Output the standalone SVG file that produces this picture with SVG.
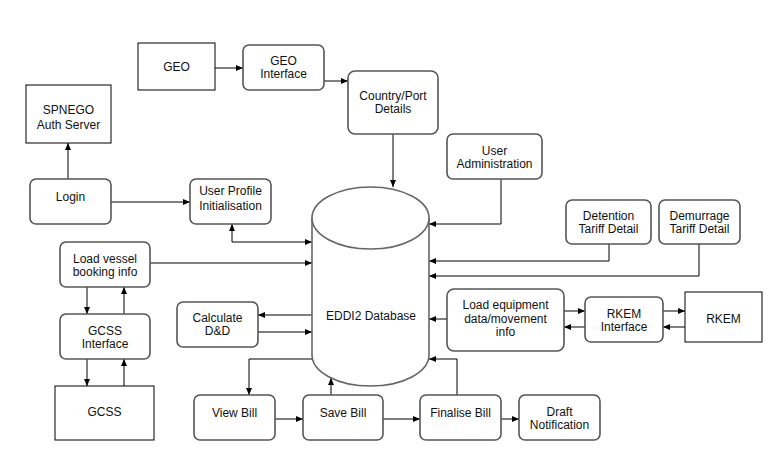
<svg xmlns="http://www.w3.org/2000/svg" width="778" height="458" viewBox="0 0 778 458">
<defs>
<marker id="ah" markerWidth="8" markerHeight="6" refX="7" refY="3" orient="auto" markerUnits="userSpaceOnUse">
<path d="M0,0 L7,3 L0,6 Z" fill="#000"/>
</marker>
<marker id="ahs" markerWidth="8" markerHeight="6" refX="0" refY="3" orient="auto" markerUnits="userSpaceOnUse">
<path d="M7,0 L0,3 L7,6 Z" fill="#000"/>
</marker>
<style>
.rb{fill:#fff;stroke:#555;stroke-width:1.6}
.sb{fill:#fff;stroke:#000;stroke-width:1}
.db{fill:#fff;stroke:#666;stroke-width:1.6}
text{font-family:"Liberation Sans",Arial,sans-serif;font-size:12px;fill:#111;text-anchor:middle}
.c1{fill:none;stroke:#000;stroke-width:1;marker-end:url(#ah)}
.c2{fill:none;stroke:#000;stroke-width:1;marker-end:url(#ah);marker-start:url(#ahs)}
</style>
</defs>
<rect width="778" height="458" fill="#fff"/>

<g id="connectors">
<path class="c1" d="M215,68 H243"/>
<path class="c1" d="M324,81 H348"/>
<path class="c1" d="M393,134 V187"/>
<path class="c1" d="M68,179 V143"/>
<path class="c1" d="M111,202 H190"/>
<path class="c2" d="M232,224 V242 H312"/>
<path class="c1" d="M150,263 H312"/>
<path class="c1" d="M87,287 V314"/>
<path class="c1" d="M124,314 V287"/>
<path class="c1" d="M87,359 V386"/>
<path class="c1" d="M124,386 V359"/>
<path class="c1" d="M312,315 H258"/>
<path class="c1" d="M258,332 H312"/>
<path class="c1" d="M312,359 H249 V395"/>
<path class="c1" d="M331,395 V378"/>
<path class="c1" d="M457,395 V359 H429"/>
<path class="c1" d="M275,419 H303"/>
<path class="c1" d="M383,419 H420"/>
<path class="c1" d="M501,419 H519"/>
<path class="c1" d="M501,179 V224 H429"/>
<path class="c1" d="M609,244 V261 H429"/>
<path class="c1" d="M699,244 V276 H429"/>
<path class="c1" d="M447,319 H429"/>
<path class="c1" d="M564,311 H585"/>
<path class="c1" d="M585,327 H564"/>
<path class="c1" d="M663,311 H685"/>
<path class="c1" d="M685,327 H663"/>
</g>

<g id="db-eddi2">
<path class="db" d="M312,218 V355 A58.5,31 0 0 0 429,355 V218 A58.5,31 0 0 0 312,218 Z"/>
<path class="db" d="M312,218 A58.5,31 0 0 0 429,218" fill="none" stroke-width="1.2"/>
<text x="371" y="320">EDDI2 Database</text>
</g>

<g id="geo"><rect class="sb" x="138" y="43" width="77" height="47"/><text x="176.5" y="71">GEO</text></g>
<g id="geo-interface"><rect class="rb" x="243" y="45" width="81" height="45" rx="6"/><text x="283.5" y="65">GEO</text><text x="283.5" y="78">Interface</text></g>
<g id="country-port"><rect class="rb" x="348" y="71" width="90" height="63" rx="7"/><text x="393" y="100">Country/Port</text><text x="393" y="113">Details</text></g>
<g id="spnego"><rect class="sb" x="26" y="85" width="85" height="58"/><text x="68.5" y="114">SPNEGO</text><text x="68.5" y="129">Auth Server</text></g>
<g id="login"><rect class="rb" x="30" y="179" width="81" height="45" rx="6"/><text x="70.5" y="201">Login</text></g>
<g id="user-profile"><rect class="rb" x="190" y="179" width="81" height="45" rx="6"/><text x="230.5" y="195">User Profile</text><text x="230.5" y="210">Initialisation</text></g>
<g id="user-admin"><rect class="rb" x="447" y="134" width="95" height="45" rx="6"/><text x="494.5" y="155">User</text><text x="494.5" y="168">Administration</text></g>
<g id="detention"><rect class="rb" x="566" y="200" width="85" height="44" rx="6"/><text x="608.5" y="220">Detention</text><text x="608.5" y="233">Tariff Detail</text></g>
<g id="demurrage"><rect class="rb" x="659" y="200" width="81" height="44" rx="6"/><text x="699.5" y="220">Demurrage</text><text x="699.5" y="233">Tariff Detail</text></g>
<g id="load-vessel"><rect class="rb" x="60" y="242" width="90" height="45" rx="6"/><text x="105" y="263">Load vessel</text><text x="105" y="276">booking info</text></g>
<g id="gcss-interface"><rect class="rb" x="60" y="314" width="90" height="45" rx="6"/><text x="105" y="335">GCSS</text><text x="105" y="348">Interface</text></g>
<g id="gcss"><rect class="sb" x="55" y="386" width="99" height="54"/><text x="104.5" y="416">GCSS</text></g>
<g id="calculate"><rect class="rb" x="177" y="302" width="81" height="45" rx="6"/><text x="217.5" y="322">Calculate</text><text x="217.5" y="335">D&amp;D</text></g>
<g id="load-equipment"><rect class="rb" x="447" y="289" width="117" height="62" rx="7"/><text x="505.5" y="309">Load equipment</text><text x="505.5" y="323">data/movement</text><text x="505.5" y="336">info</text></g>
<g id="rkem-interface"><rect class="rb" x="585" y="297" width="78" height="45" rx="6"/><text x="624" y="318">RKEM</text><text x="624" y="331">Interface</text></g>
<g id="rkem"><rect class="sb" x="685" y="292" width="77" height="50"/><text x="723.5" y="323">RKEM</text></g>
<g id="view-bill"><rect class="rb" x="194" y="395" width="81" height="45" rx="6"/><text x="234.5" y="417">View Bill</text></g>
<g id="save-bill"><rect class="rb" x="303" y="395" width="80" height="45" rx="6"/><text x="343" y="417">Save Bill</text></g>
<g id="finalise-bill"><rect class="rb" x="420" y="395" width="81" height="45" rx="6"/><text x="460.5" y="417">Finalise Bill</text></g>
<g id="draft-notification"><rect class="rb" x="519" y="395" width="81" height="45" rx="6"/><text x="559.5" y="416">Draft</text><text x="559.5" y="429">Notification</text></g>
</svg>
